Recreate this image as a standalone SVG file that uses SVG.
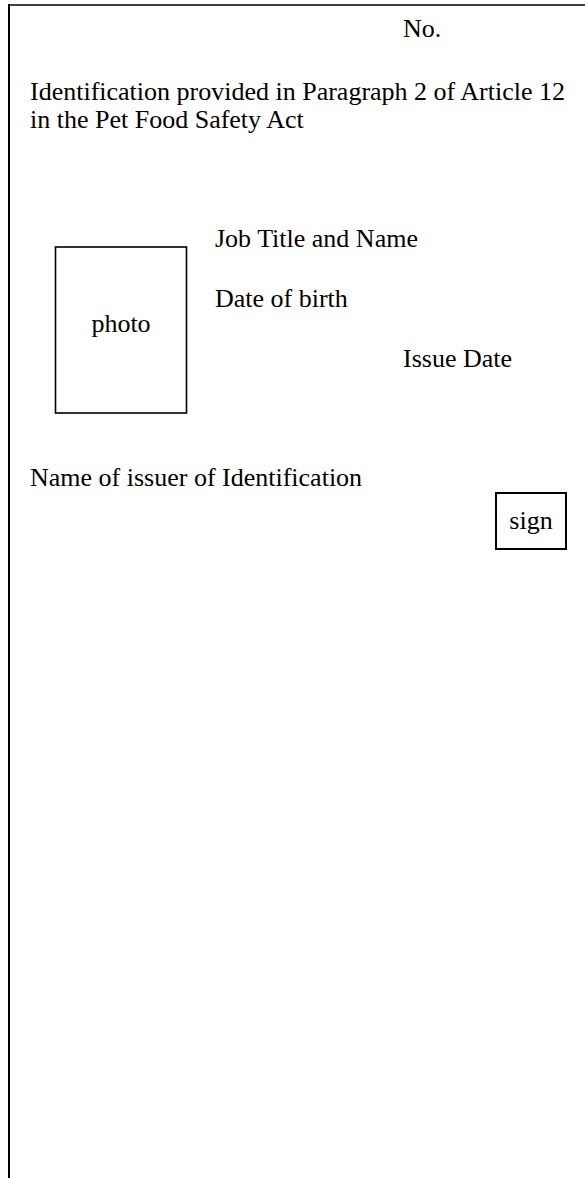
<svg xmlns="http://www.w3.org/2000/svg" width="585" height="1178" viewBox="0 0 585 1178">
<style>
text{font-family:"Liberation Serif","Times New Roman",serif;font-size:26px;fill:#000}
.ln{stroke:#000;fill:none}
</style>
<rect width="585" height="1178" fill="#fff"/>
<g id="frame">
<line class="ln" x1="8" y1="5" x2="585" y2="5" stroke-width="1.6"/>
<line class="ln" x1="9" y1="4" x2="9" y2="1178" stroke-width="2"/>
</g>
<g id="number"><text x="403" y="37">No.</text></g>
<g id="title">
<text x="30" y="100">Identification provided in Paragraph 2 of Article 12</text>
<text x="30" y="128">in the Pet Food Safety Act</text>
</g>
<g id="photo">
<rect class="ln" x="55.5" y="247" width="131" height="166" stroke-width="1.6"/>
<text x="121" y="332" text-anchor="middle">photo</text>
</g>
<g id="job"><text x="215" y="247">Job Title and Name</text></g>
<g id="birth"><text x="215" y="307">Date of birth</text></g>
<g id="issue"><text x="403" y="367">Issue Date</text></g>
<g id="issuer"><text x="30" y="486">Name of issuer of Identification</text></g>
<g id="sign">
<rect class="ln" x="496" y="493" width="70" height="56" stroke-width="2"/>
<text x="531" y="529" text-anchor="middle">sign</text>
</g>
<g id="connectors"/>
</svg>
